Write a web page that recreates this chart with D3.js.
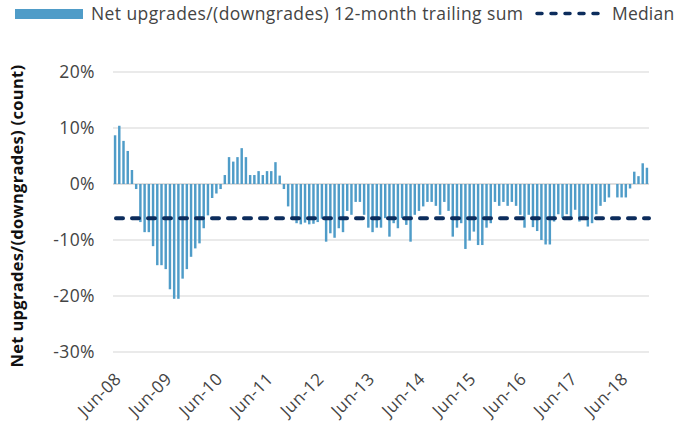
<!DOCTYPE html>
<html><head><meta charset="utf-8">
<script src="https://cdn.jsdelivr.net/npm/d3@7"></script>
<style>body{margin:0;background:#fff}svg{display:block}</style>
</head><body>
<svg id="c" width="675" height="427"></svg>
<script>
const startMonth = new Date(2008, 5, 1);
const endMonth = new Date(2019, 0, 1);
const months = d3.timeMonth.range(startMonth, endMonth).map(d3.timeFormat("%b-%y"));
const netValues = [
  8.7, 10.4, 7.7, 5.9, 2.5, -0.9, -6.8, -8.6, -8.6, -11.1, -14.5, -14.5,
  -15.2, -18.8, -20.5, -20.5, -16.9, -15.2, -13.0, -11.5, -10.6, -7.9, -5.6, -2.5,
  -1.7, -0.9, 1.6, 4.8, 4.0, 4.8, 6.4, 4.8, 1.6, 1.6, 2.3, 1.6,
  2.3, 2.3, 3.9, 1.5, -0.9, -4.0, -6.4, -7.0, -7.2, -6.9, -7.2, -7.1,
  -6.8, -6.2, -10.3, -8.8, -9.6, -7.9, -8.6, -4.8, -5.5, -3.2, -3.2, -5.5,
  -7.8, -8.6, -7.8, -7.8, -6.1, -9.4, -7.0, -7.9, -6.1, -7.3, -10.3, -5.5,
  -4.8, -4.0, -3.2, -3.2, -3.9, -5.5, -3.2, -4.8, -9.4, -7.8, -7.0, -11.6,
  -10.1, -8.5, -10.9, -10.9, -7.8, -7.0, -3.2, -3.9, -3.2, -3.9, -3.2, -3.9,
  -5.5, -7.8, -5.5, -7.7, -8.4, -10.0, -10.8, -10.8, -6.7, -5.4, -6.1, -5.4,
  -6.1, -4.6, -6.7, -6.1, -7.6, -7.0, -5.4, -3.9, -3.2, -2.4, 0, -2.4,
  -2.4, -2.4, -0.8, 2.2, 1.4, 3.7, 2.9
];
const medianValue = -6.1;
const yTicks = [20, 10, 0, -10, -20, -30];
const xTickLabels = ["Jun-08","Jun-09","Jun-10","Jun-11","Jun-12","Jun-13","Jun-14","Jun-15","Jun-16","Jun-17","Jun-18"];
const seriesName = "Net upgrades/(downgrades) 12-month trailing sum";
const medianName = "Median";
const yTitle = "Net upgrades/(downgrades) (count)";

const svg = d3.select("#c");
const FONT = "'Open Sans', sans-serif";
const TXT = "#444";
const BAR = "#4f9cc8";
const MED = "#0c2c5c";

const mLeft = 113, mRight = 649, mTop = 72, mBottom = 352;
const x = d3.scaleBand().domain(months).range([mLeft, mRight]).paddingInner(0.42).paddingOuter(0.2);
const y = d3.scaleLinear().domain([-30, 20]).range([mBottom, mTop]);

// gridlines
const grid = svg.append("g");
grid.selectAll("line").data(yTicks).join("line")
  .attr("x1", mLeft).attr("x2", mRight)
  .attr("y1", d => y(d)).attr("y2", d => y(d))
  .attr("stroke", d => d === 0 ? "#bdbdbd" : "#d6d6d6").attr("stroke-width", 1.2);

// y axis labels
const yAxis = svg.append("g").attr("transform", `translate(${mLeft},0)`)
  .call(d3.axisLeft(y).tickValues(yTicks).tickFormat(d => d + "%").tickSize(0).tickPadding(18));
yAxis.select(".domain").remove();
yAxis.selectAll("text").attr("font-family", FONT).attr("font-size", 17.5)
  .attr("letter-spacing", 0.4).attr("fill", TXT);

// bars
svg.append("g").selectAll("rect").data(netValues).join("rect")
  .attr("x", (d, i) => x(months[i]))
  .attr("width", x.bandwidth())
  .attr("y", d => y(Math.max(0, d)))
  .attr("height", d => Math.abs(y(d) - y(0)))
  .attr("fill", BAR);

// median line
svg.append("line")
  .attr("x1", mLeft + 3).attr("x2", mRight)
  .attr("y1", y(medianValue)).attr("y2", y(medianValue))
  .attr("stroke", MED).attr("stroke-width", 4)
  .attr("stroke-dasharray", "7,9").attr("stroke-linecap", "round");

// x axis labels
const xAxis = svg.append("g").attr("transform", `translate(0,${mBottom})`)
  .call(d3.axisBottom(x).tickValues(xTickLabels).tickSize(0).tickPadding(0));
xAxis.select(".domain").remove();
xAxis.selectAll("text")
  .attr("font-family", FONT).attr("font-size", 17).attr("letter-spacing", 0.4).attr("fill", TXT)
  .attr("text-anchor", "end")
  .attr("transform", "translate(3,24) rotate(-45)")
  .attr("dy", "0.35em").attr("y", 0);

// y title
svg.append("text")
  .attr("transform", `translate(23,${(mTop + mBottom) / 2 + 4}) rotate(-90)`)
  .attr("text-anchor", "middle")
  .attr("font-family", FONT).attr("font-size", 16.5).attr("letter-spacing", 0.3)
  .attr("font-weight", "bold").attr("fill", "#111")
  .text(yTitle);

// legend
const lg = svg.append("g");
lg.append("rect").attr("x", 15).attr("y", 9).attr("width", 68).attr("height", 10).attr("fill", BAR);
lg.append("text").attr("x", 91).attr("y", 20).attr("font-family", FONT).attr("font-size", 17.5)
  .attr("letter-spacing", 0.4).attr("fill", TXT).text(seriesName);
lg.append("line").attr("x1", 537).attr("x2", 604).attr("y1", 13.5).attr("y2", 13.5)
  .attr("stroke", MED).attr("stroke-width", 3.5).attr("stroke-dasharray", "5,9").attr("stroke-linecap", "round");
lg.append("text").attr("x", 612).attr("y", 20).attr("font-family", FONT).attr("font-size", 17.5)
  .attr("letter-spacing", 0.2).attr("fill", TXT).text(medianName);
</script>
</body></html>
